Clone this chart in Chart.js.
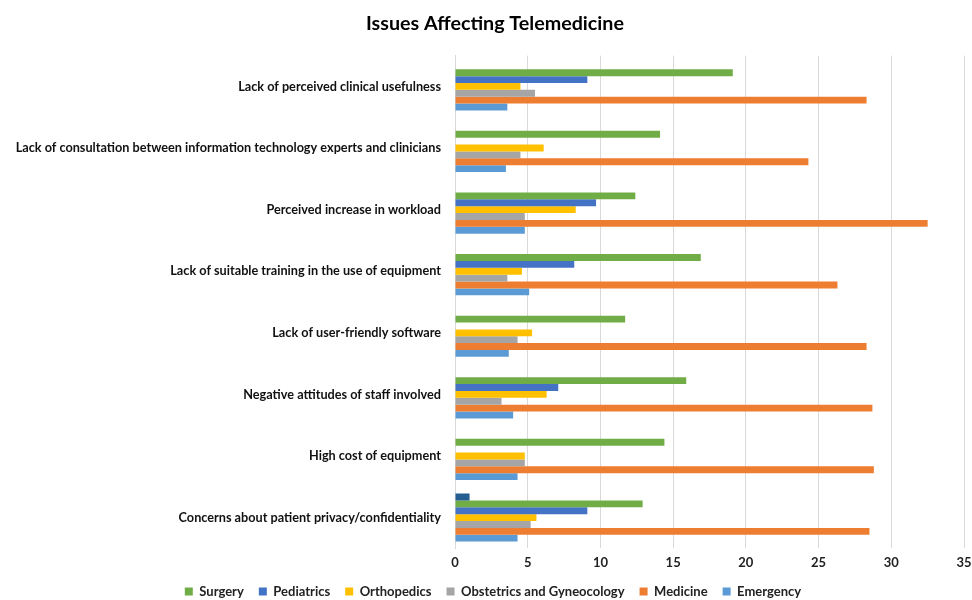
<!DOCTYPE html>
<html>
<head>
<meta charset="utf-8">
<script src="https://cdn.jsdelivr.net/npm/chart.js@4"></script>
<style>
html,body{margin:0;padding:0;background:#fff;}
#wrap{width:972px;height:600px;}
</style>
</head>
<body>
<div id="wrap"><canvas id="c"></canvas></div>
<script>
const categories = [
  "Lack of perceived clinical usefulness",
  "Lack of consultation between information technology experts and clinicians",
  "Perceived increase in workload",
  "Lack of suitable training in the use of equipment",
  "Lack of user-friendly software",
  "Negative attitudes of staff involved",
  "High cost of equipment",
  "Concerns about patient privacy/confidentiality"
];
const other       = [0, 0, 0, 0, 0, 0, 0, 1.0];
const surgery     = [19.1, 14.1, 12.4, 16.9, 11.7, 15.9, 14.4, 12.9];
const pediatrics  = [9.1, 0, 9.7, 8.2, 0, 7.1, 0, 9.1];
const orthopedics = [4.5, 6.1, 8.3, 4.6, 5.3, 6.3, 4.8, 5.6];
const obstetrics  = [5.5, 4.5, 4.8, 3.6, 4.3, 3.2, 4.8, 5.2];
const medicine    = [28.3, 24.3, 32.5, 26.3, 28.3, 28.7, 28.8, 28.5];
const emergency   = [3.6, 3.5, 4.8, 5.1, 3.7, 4.0, 4.3, 4.3];
const xTicks = [0, 5, 10, 15, 20, 25, 30, 35];

const FONT = "Lato";
const mk = (label, data, color) => ({label, data, backgroundColor: color, borderWidth: 0});

const shiftBoxes = {
  id: 'shiftBoxes',
  afterLayout(chart) {
    if (chart.titleBlock) { chart.titleBlock.left += 13; chart.titleBlock.right += 13; }
    if (chart.legend) { chart.legend.left += 11; chart.legend.right += 11; chart.legend.top += 1; chart.legend.bottom += 1; }
  }
};

new Chart(document.getElementById('c'), {
  type: 'bar',
  data: {
    labels: categories,
    datasets: [
      mk('', other, '#255E91'),
      mk('Surgery', surgery, '#70AD47'),
      mk('Pediatrics', pediatrics, '#4472C4'),
      mk('Orthopedics', orthopedics, '#FFC000'),
      mk('Obstetrics and Gyneocology', obstetrics, '#A5A5A5'),
      mk('Medicine', medicine, '#ED7D31'),
      mk('Emergency', emergency, '#5B9BD5')
    ]
  },
  plugins: [shiftBoxes],
  options: {
    indexAxis: 'y',
    responsive: true,
    maintainAspectRatio: false,
    animation: false,
    categoryPercentage: 0.78,
    barPercentage: 1.0,
    layout: {padding: {left: 0, right: 8, top: 0, bottom: 0}},
    plugins: {
      title: {
        display: true,
        text: 'Issues Affecting Telemedicine',
        color: '#000',
        font: {family: FONT, size: 19.7, weight: 'bold'},
        padding: {top: 12, bottom: 20}
      },
      legend: {
        position: 'bottom',
        maxHeight: 31,
        labels: {
          filter: (item) => item.text !== '',
          boxWidth: 8, boxHeight: 8,
          color: '#222',
          font: {family: FONT, size: 13, weight: 'bold'},
          padding: 15
        }
      },
      tooltip: {enabled: false}
    },
    scales: {
      x: {
        min: 0, max: 35,
        afterBuildTicks: (axis) => { axis.ticks = xTicks.map(v => ({value: v})); },
        afterFit: (axis) => { axis.height = Math.max(0, axis.height - 9); axis.paddingRight = 0; },
        grid: {color: '#d9d9d9', drawTicks: false},
        border: {display: false},
        ticks: {color: '#222', font: {family: FONT, size: 13, weight: 'bold'}, padding: 7}
      },
      y: {
        grid: {display: false},
        border: {display: true, color: '#d9d9d9'},
        afterFit: (axis) => { axis.width = 455; },
        ticks: {color: '#111', font: {family: FONT, size: 12.7, weight: 'bold'}, padding: 6}
      }
    }
  }
});
</script>
</body>
</html>
